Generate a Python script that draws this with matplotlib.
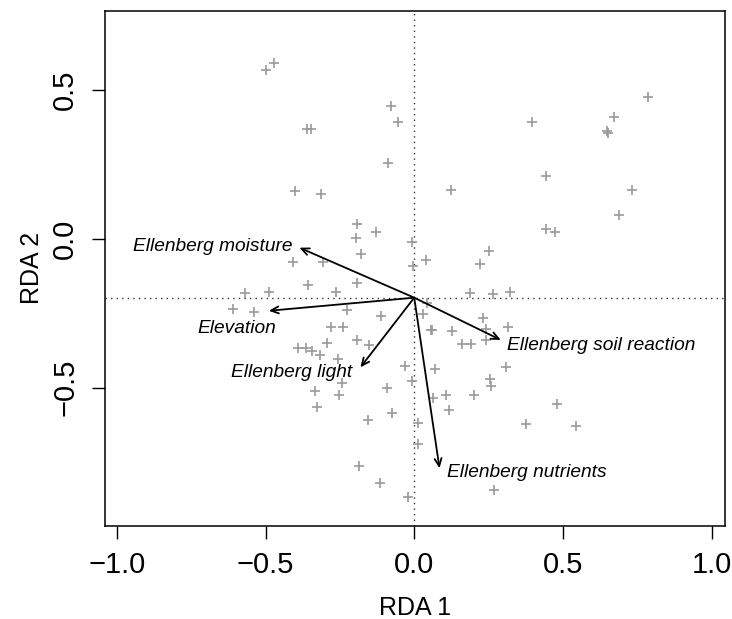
import numpy as np
import matplotlib
matplotlib.use("Agg")
import matplotlib.pyplot as plt

plt.rcParams['font.family'] = ['Liberation Sans', 'DejaVu Sans']

# site scores (RDA 1, RDA 2)
site_x = [-0.498, -0.471, -0.077, -0.056, -0.359, -0.348, -0.087, -0.402, -0.315, -0.191,
          -0.128, -0.196, -0.007, -0.178, -0.407, -0.308, -0.005, 0.785, 0.673, 0.395,
          0.647, 0.653, 0.442, 0.124, 0.732, 0.688, 0.443, 0.473, 0.253, 0.040,
          0.222, -0.356, -0.192, -0.569, -0.487, -0.262, -0.609, -0.540, -0.227, -0.111,
          -0.280, -0.241, -0.192, -0.152, -0.293, -0.391, -0.364, -0.344, -0.318, -0.255,
          -0.030, 0.186, 0.266, 0.322, 0.044, 0.029, 0.232, 0.241, 0.315, 0.056,
          0.061, 0.128, 0.241, 0.162, 0.192, 0.307, 0.069, -0.243, -0.008, -0.334,
          -0.254, -0.093, 0.064, 0.106, 0.202, -0.326, 0.116, -0.075, -0.156, 0.013,
          0.013, -0.186, -0.114, -0.021, 0.255, 0.257, 0.480, 0.376, 0.545, 0.268]
site_y = [0.567, 0.589, 0.446, 0.392, 0.369, 0.369, 0.255, 0.160, 0.150, 0.048,
          0.022, 0.003, -0.012, -0.052, -0.078, -0.078, -0.090, 0.475, 0.408, 0.392,
          0.361, 0.354, 0.210, 0.164, 0.163, 0.080, 0.032, 0.023, -0.041, -0.072,
          -0.086, -0.156, -0.147, -0.181, -0.179, -0.179, -0.236, -0.247, -0.240, -0.258,
          -0.296, -0.296, -0.339, -0.358, -0.351, -0.367, -0.366, -0.377, -0.392, -0.403,
          -0.428, -0.183, -0.186, -0.179, -0.216, -0.253, -0.265, -0.302, -0.296, -0.307,
          -0.307, -0.309, -0.340, -0.354, -0.353, -0.430, -0.439, -0.486, -0.479, -0.511,
          -0.525, -0.502, -0.534, -0.525, -0.525, -0.565, -0.576, -0.584, -0.610, -0.620,
          -0.688, -0.764, -0.821, -0.867, -0.470, -0.493, -0.555, -0.623, -0.629, -0.845]

# environmental vectors
origin = (0.0, -0.198)
env_names = ["Ellenberg moisture", "Elevation", "Ellenberg light",
             "Ellenberg soil reaction", "Ellenberg nutrients"]
env_x = [-0.386, -0.489, -0.181, 0.291, 0.085]
env_y = [-0.030, -0.242, -0.432, -0.340, -0.771]
label_x = [-0.679, -0.598, -0.413, 0.629, 0.380]
label_y = [-0.027, -0.300, -0.450, -0.360, -0.786]

fig = plt.figure(figsize=(7.32, 6.19), dpi=100)
ax = fig.add_axes([0.1434, 0.1507, 0.847, 0.8315])

ax.axvline(0, color='#333333', lw=1.0, ls=(0, (1, 3)), zorder=1)
ax.axhline(origin[1], color='#333333', lw=1.0, ls=(0, (1, 3)), zorder=1)

ax.plot(site_x, site_y, '+', color='#9a9a9a', ms=7, mew=1.2, zorder=2)

for name, ex, ey, lx, ly in zip(env_names, env_x, env_y, label_x, label_y):
    ax.annotate('', xy=(ex, ey), xytext=origin,
                arrowprops=dict(arrowstyle='->,head_length=0.55,head_width=0.25',
                                color='black', lw=1.3, shrinkA=0, shrinkB=0), zorder=3)
    ax.text(lx, ly, name, style='italic', fontsize=13.8, ha='center', va='center', zorder=4)

ax.set_xlim(-1.04, 1.045)
ax.set_ylim(-0.964, 0.765)
ax.set_xticks([-1.0, -0.5, 0.0, 0.5, 1.0])
ax.set_yticks([-0.5, 0.0, 0.5])
ax.set_xticklabels(['\u22121.0', '\u22120.5', '0.0', '0.5', '1.0'])
ax.set_yticklabels(['\u22120.5', '0.0', '0.5'], rotation=90, va='center')
ax.tick_params(labelsize=21, length=9.5, width=1.0, pad=9)
for s in ax.spines.values():
    s.set_linewidth(1.1)

ax.set_xlabel('RDA 1', fontsize=18, labelpad=12)
ax.set_ylabel('RDA 2', fontsize=18, labelpad=5)

fig.savefig('out.png', dpi=100)
